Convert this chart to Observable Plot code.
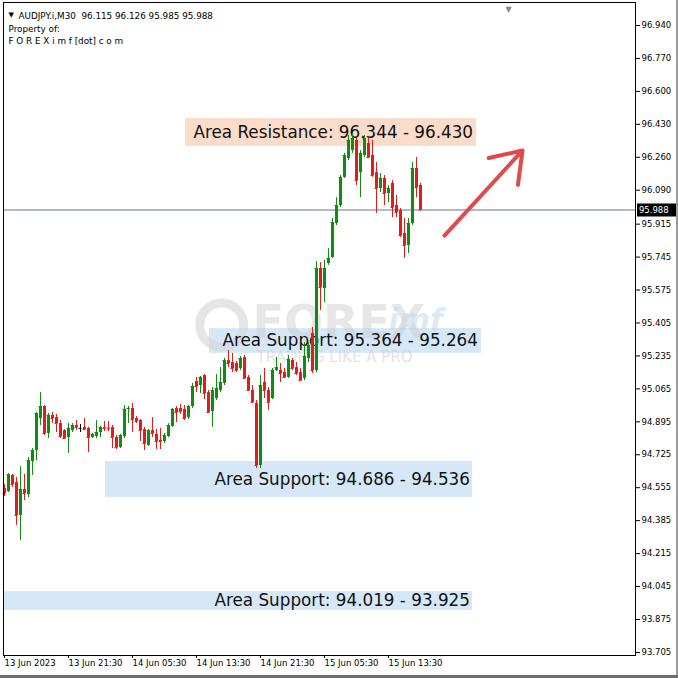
<!DOCTYPE html>
<html><head><meta charset="utf-8">
<script src="https://cdn.jsdelivr.net/npm/d3@7"></script>
<script src="https://cdn.jsdelivr.net/npm/@observablehq/plot@0.6"></script>
<style>
html,body{margin:0;padding:0;background:#fff;}
#chart{width:678px;height:678px;position:relative;overflow:hidden;}
#chart svg{display:block;}
.edgeR{position:absolute;right:0;top:0;width:2px;height:678px;background:#9a9a9a;}
.edgeB{position:absolute;left:0;bottom:0;width:678px;height:3px;background:#6d6d6d;}
</style></head><body><div id="chart"><div class="edgeR"></div><div class="edgeB"></div></div>
<script>
// ---- Data (AUDJPY.i, M30) ----
const symbol = "AUDJPY.i,M30";
const opens = [94.551,94.535,94.618,94.582,94.412,94.546,94.520,94.690,94.747,94.912,
94.974,94.835,94.928,94.917,94.886,94.850,94.814,94.850,94.876,94.861,
94.866,94.861,94.814,94.819,94.840,94.866,94.863,94.866,94.814,94.762,
94.819,94.959,94.964,94.912,94.902,94.855,94.773,94.850,94.830,94.800,
94.793,94.819,94.871,94.964,94.964,94.959,94.917,94.974,95.103,95.082,
95.134,95.046,94.948,95.015,95.057,95.093,95.211,95.201,95.196,95.170,
95.227,95.124,95.057,94.990,94.670,95.098,95.057,95.015,95.160,95.160,
95.149,95.124,95.211,95.175,95.149,95.119,95.222,95.351,95.160,95.686,
95.583,95.712,95.743,95.918,96.011,96.156,96.254,96.295,96.347,96.181,
96.269,96.331,96.269,96.181,96.099,96.151,96.073,96.125,96.011,95.985,
95.867,95.805,95.918,96.202,96.115];
const highs = [94.572,94.628,94.623,94.608,94.664,94.623,94.711,94.757,94.943,95.046,
94.979,94.938,94.943,94.933,94.902,94.855,94.886,94.886,94.902,94.881,
94.912,94.866,94.835,94.902,94.871,94.897,94.897,94.876,94.824,94.830,
94.979,94.974,94.990,94.922,94.907,94.866,94.855,94.917,94.855,94.861,
94.835,94.886,94.964,94.974,94.984,94.979,94.979,95.093,95.124,95.129,
95.139,95.057,95.072,95.139,95.175,95.222,95.263,95.248,95.206,95.232,
95.237,95.134,95.082,95.005,95.134,95.170,95.072,95.170,95.227,95.196,
95.170,95.237,95.222,95.201,95.170,95.304,95.304,95.382,95.722,95.717,
95.727,95.789,95.944,96.052,96.166,96.280,96.372,96.383,96.357,96.295,
96.372,96.357,96.347,96.233,96.176,96.166,96.114,96.140,96.063,95.996,
95.944,95.944,96.233,96.259,96.126];
const lows = [94.510,94.530,94.556,94.360,94.283,94.489,94.504,94.618,94.695,94.876,
94.824,94.809,94.886,94.840,94.809,94.804,94.732,94.840,94.850,94.840,
94.850,94.737,94.809,94.809,94.814,94.845,94.845,94.757,94.752,94.757,
94.809,94.886,94.840,94.886,94.793,94.747,94.768,94.814,94.752,94.752,
94.783,94.814,94.866,94.891,94.933,94.902,94.907,94.964,95.046,95.041,
95.010,94.938,94.866,95.005,95.046,95.082,95.175,95.149,95.149,95.160,
95.113,95.051,94.990,94.654,94.654,95.015,94.953,95.010,95.155,95.098,
95.119,95.119,95.160,95.134,95.103,95.108,95.201,95.144,95.149,95.469,
95.511,95.702,95.738,95.908,96.001,96.151,96.243,96.280,96.114,96.052,
96.259,96.254,96.156,95.970,96.078,96.011,96.027,95.949,95.949,95.846,
95.738,95.764,95.908,96.052,95.985];
const closes = [94.525,94.623,94.572,94.412,94.546,94.525,94.695,94.747,94.938,94.974,
94.835,94.928,94.912,94.886,94.819,94.809,94.861,94.876,94.866,94.861,
94.855,94.814,94.830,94.840,94.866,94.861,94.858,94.814,94.762,94.824,
94.959,94.964,94.907,94.897,94.850,94.783,94.850,94.835,94.793,94.793,
94.824,94.876,94.959,94.943,94.948,94.912,94.974,95.077,95.077,95.124,
95.041,94.943,95.057,95.067,95.098,95.211,95.196,95.170,95.160,95.222,
95.119,95.057,94.995,94.670,95.082,95.057,94.995,95.160,95.175,95.144,
95.124,95.217,95.170,95.144,95.108,95.232,95.289,95.160,95.686,95.588,
95.686,95.738,95.923,96.011,96.156,96.269,96.347,96.357,96.140,96.280,
96.357,96.259,96.166,96.099,96.151,96.073,96.099,96.001,95.975,95.856,
95.805,95.918,96.202,96.104,95.988];

const timeTickBars = [0,16,32,48,64,80,96];
const timeTickLabels = ["13 Jun 2023","13 Jun 21:30","14 Jun 05:30","14 Jun 13:30","14 Jun 21:30","15 Jun 05:30","15 Jun 13:30"];
const priceTicks = [96.940,96.770,96.600,96.430,96.260,96.090,95.915,95.745,95.575,95.405,95.235,95.065,94.895,94.725,94.555,94.385,94.215,94.045,93.875,93.705];

const zoneNames = ["Area Resistance: 96.344 - 96.430","Area Support: 95.364 - 95.264","Area Support: 94.686 - 94.536","Area Support: 94.019 - 93.925"];
const zoneHigh = [96.460,95.376,94.690,94.019];
const zoneLow  = [96.316,95.248,94.504,93.921];
const zoneFromBar = [45.25,51.25,25.25,0];
const zoneToBar   = [118,119.25,117,117];
const zoneLabelBar = [47.25,54.5,52.5,52.5];
const zoneKind = ["resistance","support","support","support"];

const arrowFrom = {bar:110, price:95.856};
const arrowTo   = {bar:129.5, price:96.295};

// ---- Build ----
const candles = opens.map((o,i)=>({i, o, h:highs[i], l:lows[i], c:closes[i]}));
const last = candles[candles.length-1];
const lastPrice = last.c;
const zones = zoneNames.map((name,k)=>({name, hi:zoneHigh[k], lo:zoneLow[k], x1:zoneFromBar[k], x2:zoneToBar[k], lx:zoneLabelBar[k], kind:zoneKind[k]}));

const GREEN = "#138a13", RED = "#dc1e1e";
const col = d => d.c > d.o ? GREEN : d.c < d.o ? RED : "#000";
const F = "DejaVu Sans";
const nb = "\u00a0";

const chart = Plot.plot({
  width: 678, height: 678,
  marginLeft: 3, marginRight: 43, marginTop: 2, marginBottom: 23,
  style: {fontFamily: F, background: "#fff", color: "#000"},
  x: {domain: [-0.25, 157.75], axis: null},
  y: {domain: [93.6892, 97.0587], axis: null},
  marks: [
    Plot.rect(zones, {x1:"x1", x2:"x2", y1:"lo", y2:"hi", fill: d => d.kind==="resistance" ? "#fbdccb" : "#d6e8f8"}),
    // watermark
    Plot.dot([0], {x: 54.3, y: 95.395, r: 22, stroke: "#d4d4d4", strokeWidth: 9, fill: "none", strokeOpacity: 0.6}),
    Plot.text(["FOREX"], {x: 62, y: 95.405, text: d=>d, fontSize: 46, fontWeight: "bold", fill: "#c9c9c9", fillOpacity: 0.45, textAnchor: "start", fontFamily: F}),
    Plot.text(["imf"], {x: 96, y: 95.42, text: d=>d, fontSize: 30, fontStyle: "italic", fontWeight: "bold", fill: "#b9d6ee", fillOpacity: 0.5, textAnchor: "start", fontFamily: F}),
    Plot.text(["TRADING LIKE A PRO"], {x: 63, y: 95.228, text: d=>d, fontSize: 15, fill: "#cfcfcf", fillOpacity: 0.6, textAnchor: "start", fontFamily: F}),
    Plot.text(zones, {x:"lx", y: d=>(d.hi+d.lo)/2, text:"name", textAnchor:"start", fontSize: 16.8, fill:"#111", fontFamily: F}),
    Plot.ruleY([lastPrice], {stroke: "#667686", strokeWidth: 1}),
    Plot.ruleX(candles, {x:"i", y1:"l", y2:"h", stroke: col, strokeWidth: 1}),
    Plot.ruleX(candles, {x:"i", y1:"o", y2:"c", stroke: col, strokeWidth: 3}),
    Plot.ruleY(candles, {y:"c", x1: d=>d.i-0.375, x2: d=>d.i+0.375, stroke: col, strokeWidth: 1}),
    Plot.arrow([0], {x1: ()=>arrowFrom.bar, y1: ()=>arrowFrom.price, x2: ()=>arrowTo.bar, y2: ()=>arrowTo.price, stroke: "#e04a4d", strokeWidth: 4, headLength: 13, headAngle: 70}),
    Plot.frame({stroke: "#000"}),
    Plot.axisY({anchor: "right", ticks: priceTicks, tickFormat: d=>d.toFixed(3), tickSize: 4, tickPadding: 2, fontSize: 8.5, fontFamily: F}),
    Plot.axisX({anchor: "bottom", ticks: timeTickBars, tickFormat: d=>timeTickLabels[timeTickBars.indexOf(d)], tickSize: 3, tickPadding: 1, textAnchor: "start", fontSize: 8.5, fontFamily: F}),
    // current price label on the axis
    Plot.ruleY([lastPrice], {x1: 158.25, x2: 168.1, stroke: "#000", strokeWidth: 13}),
    Plot.text([lastPrice], {x: 158.6, y: d=>d, text: d=>d.toFixed(3), fill: "#fff", textAnchor: "start", fontSize: 8.5, fontFamily: F}),
    // header
    Plot.text(["\u25BC"], {frameAnchor: "top-left", dx: 5, dy: 10, text: d=>d, fontSize: 7, textAnchor: "start", fill: "#000"}),
    Plot.text([last], {frameAnchor: "top-left", dx: 15, dy: 10, text: d => symbol + nb + nb + [d.o,d.h,d.l,d.c].map(v=>v.toFixed(3)).join(nb), fontSize: 8.8, textAnchor: "start", fill: "#000", fontFamily: F}),
    Plot.text(["Property of:"], {frameAnchor: "top-left", dx: 5, dy: 23, text: d=>d, fontSize: 8.8, textAnchor: "start", fill: "#000", fontFamily: F}),
    Plot.text(["F O R E X i m f [dot] c o m"], {frameAnchor: "top-left", dx: 5, dy: 35, text: d=>d.replace(/ /g, nb), fontSize: 8.8, textAnchor: "start", fill: "#000", fontFamily: F}),
    Plot.text(["\u25BC"], {x: 126, frameAnchor: "top", dy: 4, text: d=>d, fontSize: 8, fill: "#8a8a8a"})
  ]
});
document.getElementById("chart").prepend(chart);
</script>
</body></html>
